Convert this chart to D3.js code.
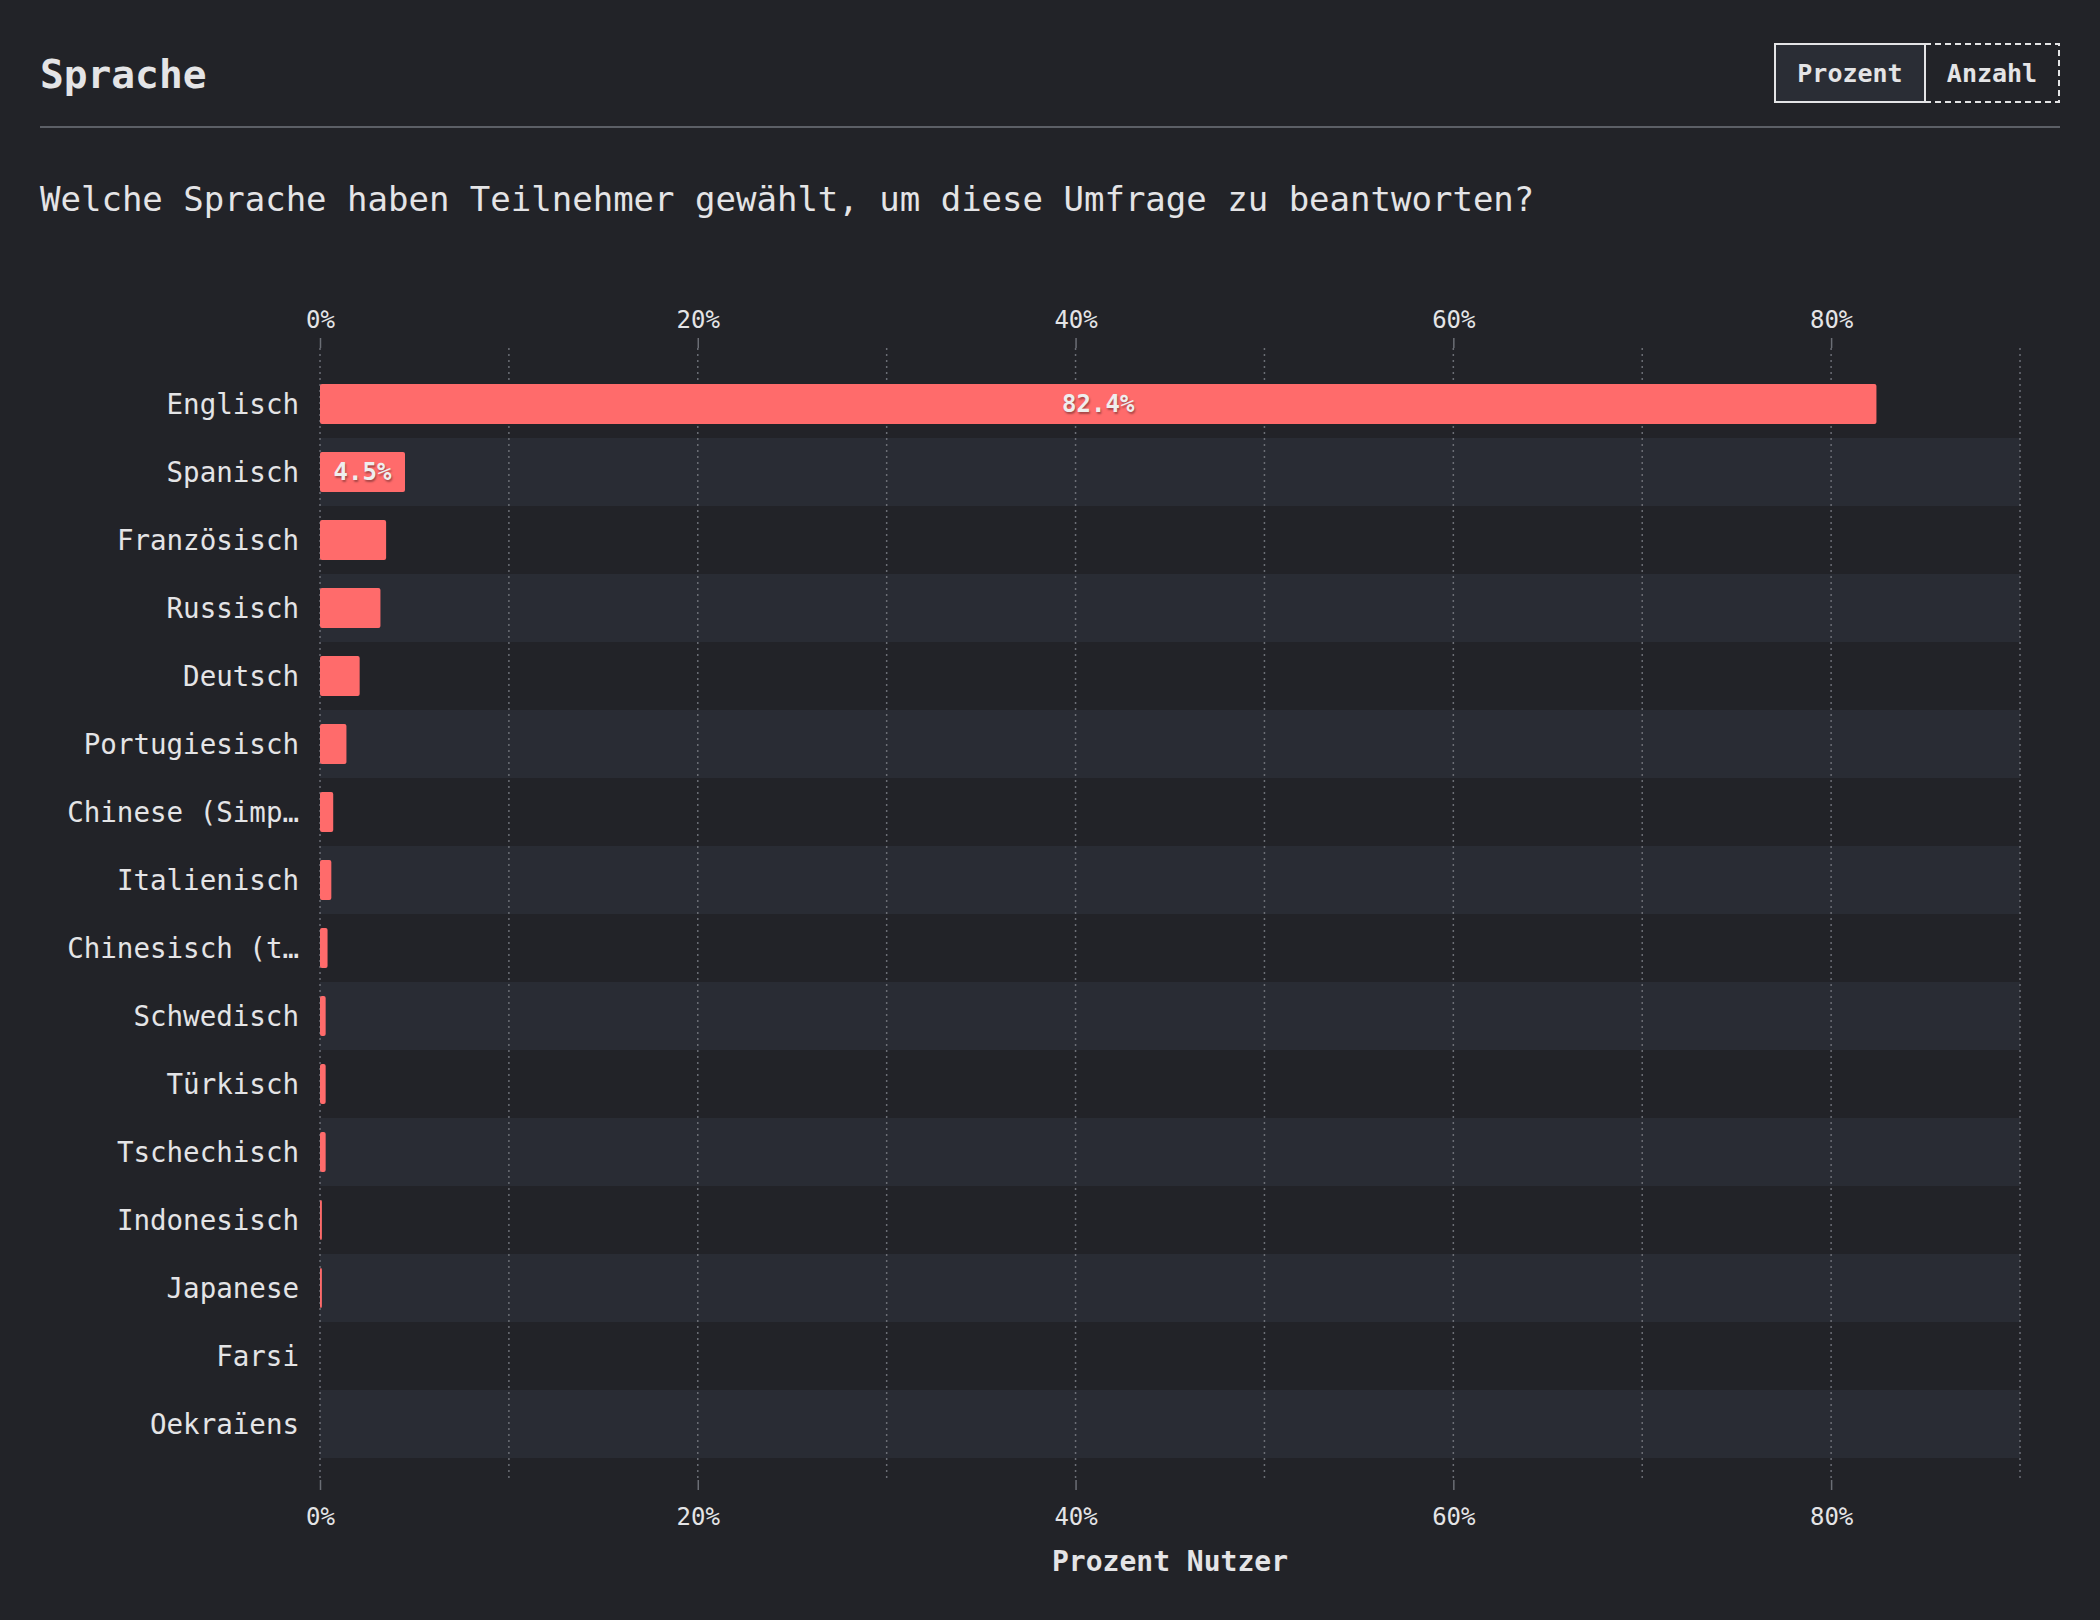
<!DOCTYPE html>
<html><head><meta charset="utf-8">
<script src="https://cdn.jsdelivr.net/npm/d3@7"></script>
<style>
html,body{margin:0;padding:0;background:#222328;}
svg{display:block;}
text{font-family:"DejaVu Sans Mono","Liberation Mono",monospace;}
</style></head>
<body>
<svg id="chart" width="2100" height="1620"></svg>
<script>
const languages = ["Englisch","Spanisch","Französisch","Russisch","Deutsch","Portugiesisch","Chinese (Simplified)","Italienisch","Chinesisch (traditionell)","Schwedisch","Türkisch","Tschechisch","Indonesisch","Japanese","Farsi","Oekraïens"];
const percentages = [82.4,4.5,3.5,3.2,2.1,1.4,0.7,0.6,0.4,0.3,0.3,0.3,0.1,0.1,0,0];
const majorTicks = [0,20,40,60,80];
const gridTicks = [0,10,20,30,40,50,60,70,80,90];
const title = "Sprache";
const question = "Welche Sprache haben Teilnehmer gewählt, um diese Umfrage zu beantworten?";
const axisTitle = "Prozent Nutzer";
const toggleLabels = ["Prozent","Anzahl"];

(function(){
const svg = d3.select("#chart");
const C = {bg:"#222328", band:"#292c34", bar:"#ff6b6b", text:"#e4e4e6", grid:"#6b6e75", rule:"#5c5f66"};
const FF = '"DejaVu Sans Mono","Liberation Mono",monospace';

svg.append("rect").attr("width",2100).attr("height",1620).attr("fill",C.bg);

// Header
svg.append("text").attr("x",40).attr("y",88).attr("fill",C.text)
  .attr("font-size",39.5).attr("font-weight","bold").text(title);
svg.append("line").attr("x1",40).attr("x2",2060).attr("y1",127).attr("y2",127)
  .attr("stroke",C.rule).attr("stroke-width",2);
svg.append("text").attr("x",40).attr("y",211).attr("fill",C.text)
  .attr("font-size",34).text(question);

// Toggle
const tg = svg.append("g");
tg.append("rect").attr("x",1775).attr("y",44).attr("width",150).attr("height",58)
  .attr("fill","#2a2d35").attr("stroke",C.text).attr("stroke-width",2);
tg.append("rect").attr("x",1925).attr("y",44).attr("width",134).attr("height",58)
  .attr("fill","none").attr("stroke",C.text).attr("stroke-width",2).attr("stroke-dasharray","6,4");
tg.append("line").attr("x1",1925).attr("x2",1925).attr("y1",44).attr("y2",102)
  .attr("stroke",C.text).attr("stroke-width",2);
tg.append("text").attr("x",1850).attr("y",82).attr("text-anchor","middle").attr("fill",C.text)
  .attr("font-size",25).attr("font-weight","bold").text(toggleLabels[0]);
tg.append("text").attr("x",1992).attr("y",82).attr("text-anchor","middle").attr("fill",C.text)
  .attr("font-size",25).attr("font-weight","bold").text(toggleLabels[1]);

// Scales
const x = d3.scaleLinear().domain([0,90]).range([320,2020]);
const y = d3.scaleBand().domain(languages).range([370,1458]).paddingInner(0.41).paddingOuter(0.205);
const yRow = d3.scaleBand().domain(languages).range([370,1458]).padding(0);

// Bands
svg.append("g").selectAll("rect").data(languages.filter((d,i)=>i%2===1)).join("rect")
  .attr("x",x(0)).attr("width",x(90)-x(0))
  .attr("y",d=>yRow(d)).attr("height",yRow.bandwidth()).attr("fill",C.band);

// Grid (dotted)
svg.append("g").selectAll("line").data(gridTicks).join("line")
  .attr("x1",d=>x(d)).attr("x2",d=>x(d)).attr("y1",348).attr("y2",1478)
  .attr("stroke",C.grid).attr("stroke-width",1.5).attr("stroke-dasharray","2,4");

// Axes
const fmt = d=>d+"%";
const axTop = svg.append("g").attr("transform","translate(0,348)")
  .call(d3.axisTop(x).tickValues(majorTicks).tickFormat(fmt).tickSize(10).tickPadding(10));
const axBottom = svg.append("g").attr("transform","translate(0,1480)")
  .call(d3.axisBottom(x).tickValues(majorTicks).tickFormat(fmt).tickSize(10).tickPadding(18));
[axTop,axBottom].forEach(g=>{
  g.select(".domain").remove();
  g.selectAll(".tick line").attr("stroke",C.grid).attr("stroke-width",1.5);
  g.selectAll(".tick text").attr("fill",C.text).attr("font-size",24).attr("font-family",FF);
});

// Bars
svg.append("g").selectAll("rect").data(languages).join("rect")
  .attr("x",x(0)).attr("y",d=>y(d)).attr("height",y.bandwidth())
  .attr("width",(d,i)=>Math.max(0,x(percentages[i])-x(0)))
  .attr("rx",2).attr("fill",C.bar);

// Value labels
svg.append("g").selectAll("text").data(languages.filter((d,i)=>x(percentages[i])-x(0) > 80)).join("text")
  .attr("x",d=>{const i=languages.indexOf(d);return (x(0)+x(percentages[i]))/2;})
  .attr("y",d=>y(d)+y.bandwidth()/2).attr("dy","0.35em")
  .attr("text-anchor","middle").attr("fill","#eeeeee").attr("font-size",24).attr("font-weight","bold")
  .style("text-shadow","1px 2px 2px rgba(0,0,0,0.35)")
  .text(d=>percentages[languages.indexOf(d)].toFixed(1)+"%");

// Category labels
const trunc = s => s.length>13 ? s.slice(0,13)+"…" : s;
svg.append("g").selectAll("text").data(languages).join("text")
  .attr("x",299).attr("y",d=>y(d)+y.bandwidth()/2).attr("dy","0.38em")
  .attr("text-anchor","end").attr("fill",C.text).attr("font-size",27.5)
  .text(d=>trunc(d));

// Axis title
svg.append("text").attr("x",(x(0)+x(90))/2).attr("y",1571).attr("text-anchor","middle")
  .attr("fill",C.text).attr("font-size",28).attr("font-weight","bold").text(axisTitle);
})();
</script>
</body></html>
